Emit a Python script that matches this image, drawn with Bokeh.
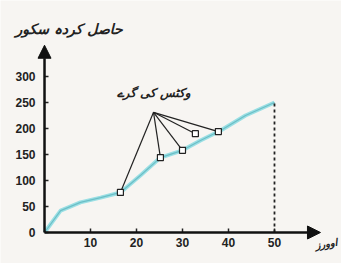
from bokeh.plotting import figure
from bokeh.models import Arrow, NormalHead, Label, FixedTicker, Range1d
from bokeh.embed import file_html
from bokeh.resources import INLINE

# Data
overs = [0, 3.5, 7.8, 12.2, 16.5, 20.9, 25.2, 30, 33.9, 38.3, 43.7, 50]
runs = [0, 42, 58, 67, 77, 110, 144, 158, 177, 196, 225, 250]
wkt_overs = [16.5, 25.2, 30, 32.8, 37.8]
wkt_runs = [77, 144, 158, 190, 194]
apex_over = 23.7
apex_run = 231
x_ticks = [10, 20, 30, 40, 50]
y_ticks = [0, 50, 100, 150, 200, 250, 300]
final_over = 50
final_run = 250
x_max = 60
y_max = 360

y_title = "حاصل کردہ سکور"
x_title = "اوورز"
wkt_title = "وکٹس کی گرے"

bg = "#f7f5f2"
p = figure(width=341, height=263, output_backend="svg", toolbar_location=None,
           x_range=Range1d(-9.57, 64.57), y_range=Range1d(-59.6, 446),
           min_border=0,
           background_fill_color=bg, border_fill_color=bg)
p.outline_line_color = None
p.grid.grid_line_color = None

for ax in (p.xaxis[0], p.yaxis[0]):
    ax.fixed_location = 0
    ax.axis_line_color = None
    ax.major_tick_in = 4
    ax.major_tick_out = 0
    ax.minor_tick_line_color = None
    ax.major_tick_line_color = "#222222"
    ax.major_tick_line_width = 1.5
    ax.major_label_text_font = "Liberation Sans"
    ax.major_label_text_font_style = "bold"
    ax.major_label_text_font_size = "12px"
    ax.major_label_text_color = "#222222"
p.xaxis.ticker = FixedTicker(ticks=x_ticks)
p.yaxis.ticker = FixedTicker(ticks=y_ticks)
p.yaxis.major_label_standoff = 9
p.xaxis.major_label_standoff = 6

# axes as arrows
p.add_layout(Arrow(end=NormalHead(size=13, fill_color="#111111", line_color="#111111"),
                   x_start=0, y_start=0, x_end=x_max, y_end=0,
                   line_width=2.5, line_color="#111111"))
p.add_layout(Arrow(end=NormalHead(size=13, fill_color="#111111", line_color="#111111"),
                   x_start=0, y_start=0, x_end=0, y_end=y_max,
                   line_width=2.5, line_color="#111111"))

# score line
p.line(overs, runs, line_color="#9adfe4", line_width=4)
p.line(overs, runs, line_color="#6cbec6", line_width=1.2)

# dashed final line
p.line([final_over, final_over], [0, final_run], line_color="#222222", line_width=1.8, line_dash="3 3")

# lines from label apex to wickets
for wx, wy in zip(wkt_overs, wkt_runs):
    p.line([apex_over, wx], [apex_run, wy], line_color="#222222", line_width=1.2)
p.scatter(wkt_overs, wkt_runs, marker="square", size=6, fill_color="white",
          line_color="#222222", line_width=1.2)

p.add_layout(Label(x=apex_over, y=268, text=wkt_title, text_align="center",
                   text_baseline="middle", text_font="DejaVu Sans", text_font_size="12px",
                   text_font_style="bold italic", text_color="#222222"))
p.add_layout(Label(x=-6.3, y=392, text=y_title, text_align="left",
                   text_baseline="middle", text_font="DejaVu Sans", text_font_size="14px",
                   text_font_style="bold italic", text_color="#222222"))
p.add_layout(Label(x=58.9, y=-25, text=x_title, text_align="left",
                   text_baseline="middle", text_font="DejaVu Sans", text_font_size="10px",
                   text_font_style="bold italic", text_color="#222222", angle=0.15))

open("out.html", "w").write(file_html(p, INLINE))
